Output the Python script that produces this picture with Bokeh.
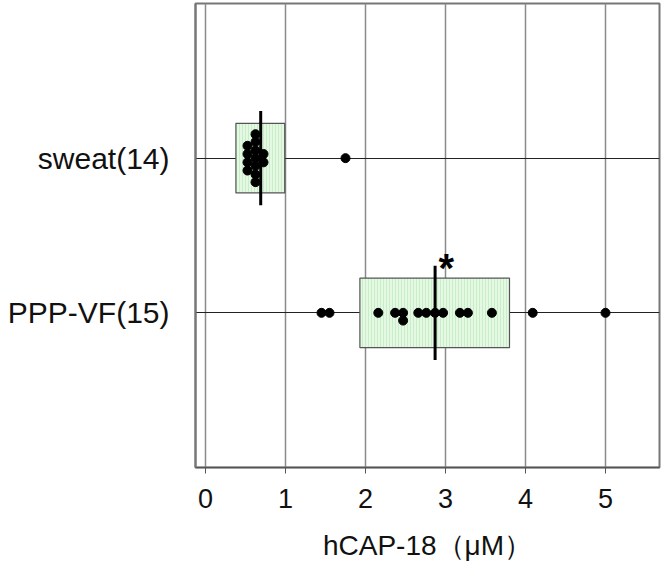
from bokeh.plotting import figure
from bokeh.models import FixedTicker, Range1d
from bokeh.core.properties import value
from bokeh.embed import file_html
from bokeh.resources import INLINE

# ---- data ----
groups = ["PPP-VF(15)", "sweat(14)"]
group_pos = [1, 2]

sweat_vals = [0.625, 0.625, 0.625, 0.625, 0.625, 0.625, 0.625,
              0.525, 0.525, 0.525, 0.525, 0.725, 0.725, 1.75]
sweat_jit = [-0.155, -0.105, -0.05, 0.0, 0.05, 0.105, 0.155,
             -0.08, -0.027, 0.027, 0.08, -0.027, 0.027, 0.0]

ppp_vals = [1.45, 1.55, 2.16, 2.37, 2.47, 2.47, 2.66, 2.76, 2.87,
            2.97, 3.18, 3.28, 3.58, 4.09, 5.0]
ppp_jit = [0, 0, 0, 0, 0, -0.05, 0, 0, 0, 0, 0, 0, 0, 0, 0]

box_low = [1.93, 0.38]
box_high = [3.80, 0.99]
medians = [2.87, 0.69]

x_ticks = [0, 1, 2, 3, 4, 5]
star_x = [3.01]
star_y = [1.29]

FONT = "Liberation Sans"

p = figure(width=662, height=563, output_backend="svg", toolbar_location=None,
           x_range=Range1d(-0.125, 5.675), y_range=Range1d(0, 3),
           min_border_left=195, min_border_right=3, min_border_top=3,
           min_border_bottom=96)

p.outline_line_color = "#777777"
p.outline_line_width = 2
p.background_fill_color = "white"
p.border_fill_color = "white"

# grids
p.xgrid.ticker = FixedTicker(ticks=x_ticks)
p.xgrid.grid_line_color = "#8a8a8a"
p.xgrid.grid_line_width = 1.5
p.ygrid.ticker = FixedTicker(ticks=group_pos)
p.ygrid.grid_line_color = "#222222"
p.ygrid.grid_line_width = 1

# x axis
p.xaxis.ticker = FixedTicker(ticks=x_ticks)
p.xaxis.minor_tick_line_color = None
p.xaxis.major_tick_out = 6
p.xaxis.major_tick_in = 0
p.xaxis.major_tick_line_color = "#555555"
p.xaxis.axis_line_color = "#555555"
p.xaxis.axis_line_width = 1.5
p.xaxis.major_label_text_font = FONT
p.xaxis.major_label_text_font_size = "27px"
p.xaxis.major_label_text_color = "#111111"
p.xaxis.major_label_standoff = 15
p.xaxis.axis_label = "hCAP-18（μM）"
p.xaxis.axis_label_text_font = FONT
p.xaxis.axis_label_text_font_size = "28px"
p.xaxis.axis_label_text_font_style = "normal"
p.xaxis.axis_label_text_color = "#111111"
p.xaxis.axis_label_standoff = 19

# y axis
p.yaxis.ticker = FixedTicker(ticks=group_pos)
p.yaxis.major_label_overrides = {gp: g for gp, g in zip(group_pos, groups)}
p.yaxis.minor_tick_line_color = None
p.yaxis.major_tick_out = 0
p.yaxis.major_tick_in = 0
p.yaxis.axis_line_color = "#777777"
p.yaxis.axis_line_width = 2
p.yaxis.major_label_text_font = FONT
p.yaxis.major_label_text_font_size = "30px"
p.yaxis.major_label_text_color = "#111111"
p.yaxis.major_label_standoff = 26

# boxes
bh = 0.225
p.quad(left=box_low, right=box_high,
       bottom=[g - bh for g in group_pos], top=[g + bh for g in group_pos],
       fill_color="#e4f8e4", line_color="#555555", line_width=1.2,
       hatch_pattern="|", hatch_color="#c8eec8", hatch_scale=3, hatch_weight=1)

# median lines
mh = 0.305
p.segment(x0=medians, x1=medians,
          y0=[g - mh for g in group_pos], y1=[g + mh for g in group_pos],
          line_color="black", line_width=3)

# points
p.scatter(x=sweat_vals, y=[2 + j for j in sweat_jit], size=9,
          fill_color="black", line_color="black")
p.scatter(x=ppp_vals, y=[1 + j for j in ppp_jit], size=9,
          fill_color="black", line_color="black")

# asterisk
p.text(x=star_x, y=star_y, text=["*"], text_font=value(FONT),
       text_font_size="40px", text_font_style="bold", text_align="center",
       text_baseline="middle", text_color="black")

open("out.html", "w").write(file_html(p, INLINE))
